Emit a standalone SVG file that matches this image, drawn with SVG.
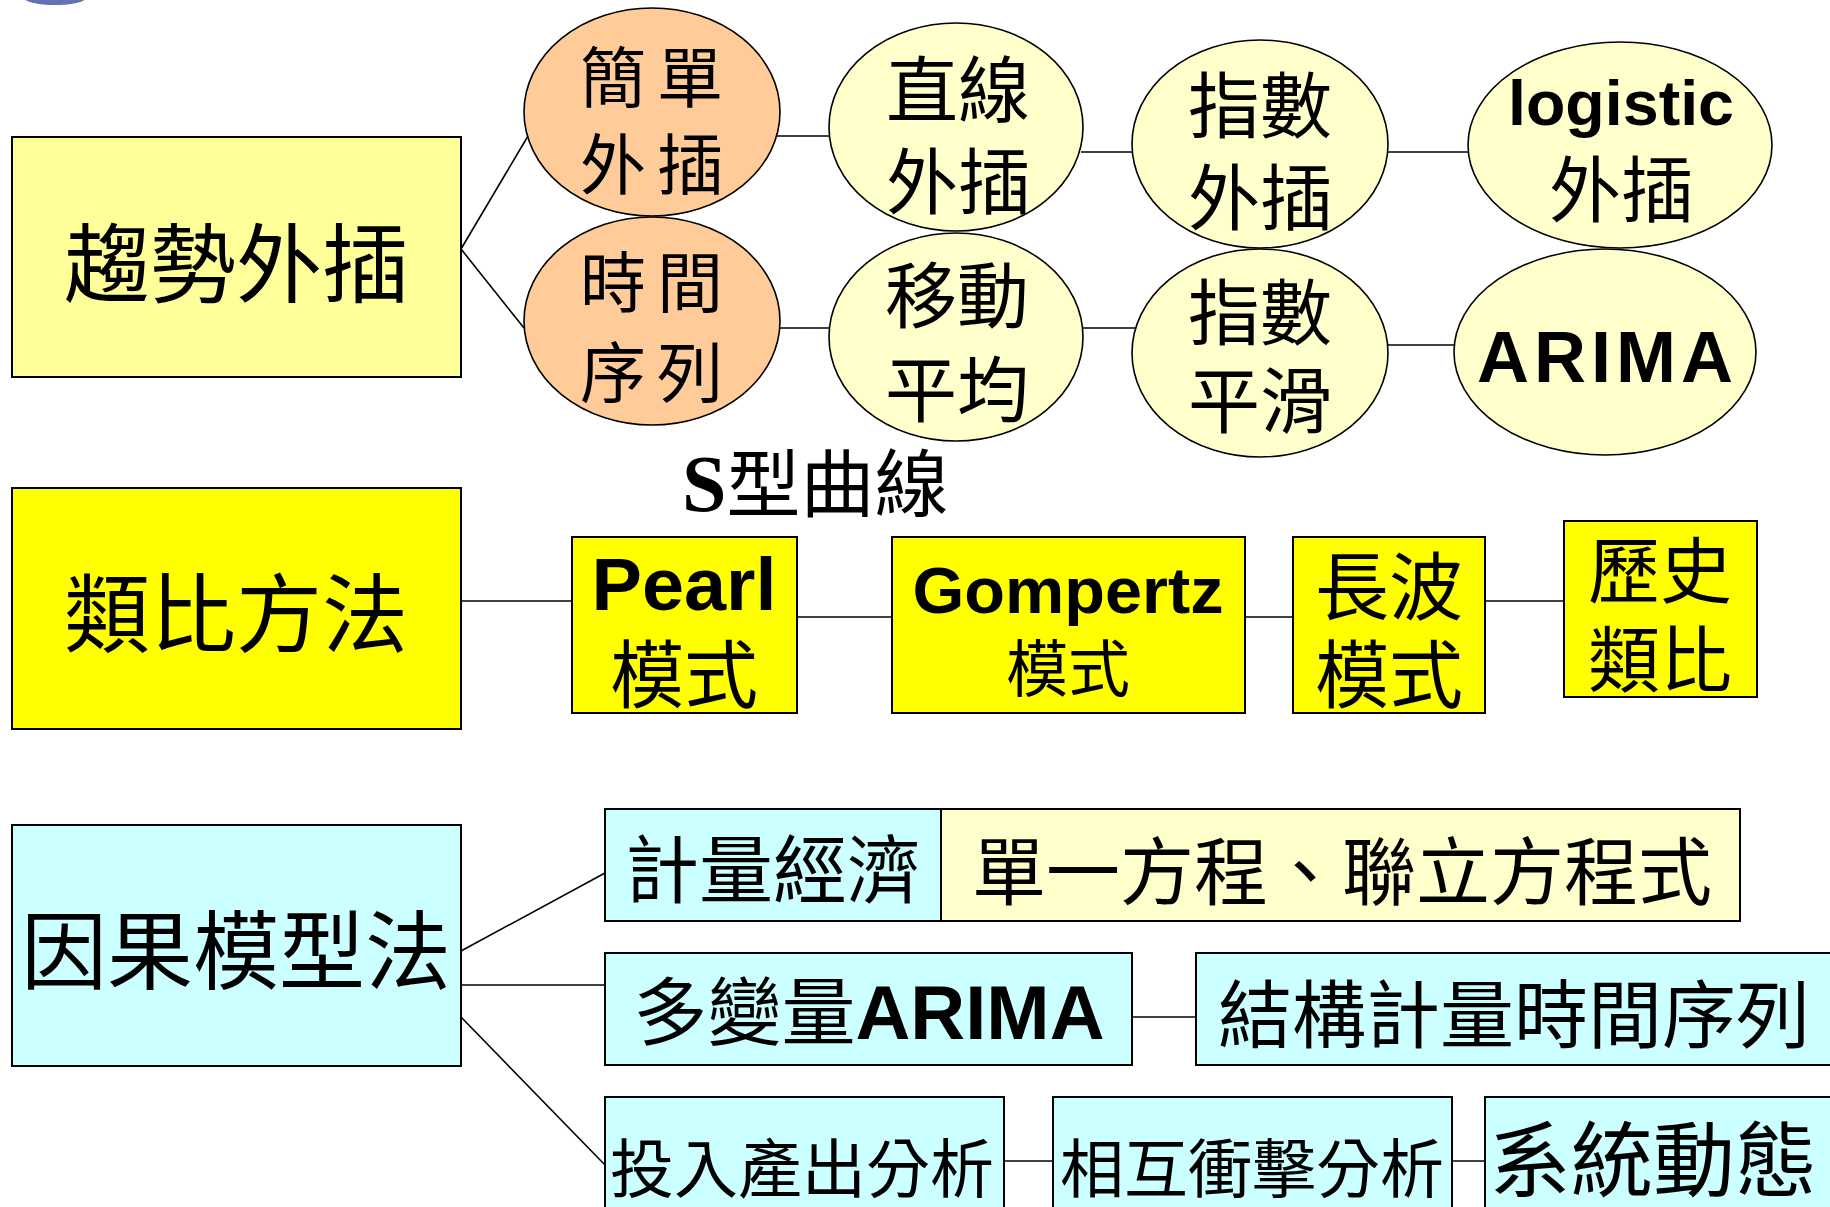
<svg xmlns="http://www.w3.org/2000/svg" width="1830" height="1207" viewBox="0 0 1830 1207">
<style>
.cjk{font-family:"Noto Sans CJK TC","Noto Sans CJK SC",sans-serif;fill:#000}
.lat{font-family:"Liberation Sans",Arial,sans-serif;font-weight:bold;fill:#000}
.ser{font-family:"Liberation Serif","Times New Roman",serif;font-weight:bold;fill:#000}
.mid{text-anchor:middle}
.box{stroke:#000;stroke-width:2}
.ell{stroke:#000;stroke-width:1.6}
.peach{fill:#FFCC99}
.cream{fill:#FFFFCC}
.pale{fill:#FFFF99}
.yel{fill:#FFFF00}
.cyan{fill:#CCFFFF}
.conn line{stroke:#000;stroke-width:1.6}
</style>
<rect width="1830" height="1207" fill="#fff"/>
<ellipse cx="55" cy="-3" rx="32" ry="8" fill="#3d4f9f" opacity="0.8"/>

<g id="connectors" class="conn">
<line x1="461" y1="249" x2="528" y2="136"/>
<line x1="461" y1="249" x2="524" y2="328"/>
<line x1="776" y1="136" x2="832" y2="136"/>
<line x1="1081" y1="152" x2="1134" y2="152"/>
<line x1="1386" y1="152" x2="1470" y2="152"/>
<line x1="778" y1="328" x2="831" y2="328"/>
<line x1="1082" y1="328" x2="1135" y2="328"/>
<line x1="1386" y1="345" x2="1455" y2="345"/>
<line x1="461" y1="601" x2="572" y2="601"/>
<line x1="797" y1="617" x2="892" y2="617"/>
<line x1="1245" y1="617" x2="1293" y2="617"/>
<line x1="1485" y1="601" x2="1564" y2="601"/>
<line x1="461" y1="951" x2="605" y2="873"/>
<line x1="461" y1="985" x2="605" y2="985"/>
<line x1="461" y1="1017" x2="605" y2="1165"/>
<line x1="1132" y1="1017" x2="1196" y2="1017"/>
<line x1="1004" y1="1161" x2="1053" y2="1161"/>
<line x1="1452" y1="1161" x2="1485" y2="1161"/>
</g>

<g id="trend">
<rect class="box pale" x="12" y="137" width="449" height="240"/>
<text class="cjk mid" x="236" y="296" font-size="86">趨勢外插</text>
</g>
<g id="simple-extrap">
<ellipse class="ell peach" cx="652" cy="112" rx="128" ry="104"/>
<text class="cjk mid" x="613 690" y="102" font-size="66">簡單</text>
<text class="cjk mid" x="613 690" y="189" font-size="66">外插</text>
</g>
<g id="time-series">
<ellipse class="ell peach" cx="652" cy="321" rx="128" ry="104"/>
<text class="cjk mid" x="613 690" y="307" font-size="66">時間</text>
<text class="cjk mid" x="613 690" y="397" font-size="66">序列</text>
</g>
<g id="linear-extrap">
<ellipse class="ell cream" cx="956" cy="127" rx="127" ry="104"/>
<text class="cjk mid" x="958" y="116" font-size="72">直線</text>
<text class="cjk mid" x="958" y="208" font-size="72">外插</text>
</g>
<g id="exp-extrap">
<ellipse class="ell cream" cx="1260" cy="144" rx="128" ry="104"/>
<text class="cjk mid" x="1260" y="132" font-size="72">指數</text>
<text class="cjk mid" x="1260" y="224" font-size="72">外插</text>
</g>
<g id="logistic-extrap">
<ellipse class="ell cream" cx="1620" cy="145" rx="152" ry="103"/>
<text class="lat mid" x="1621" y="125" font-size="63" textLength="226" lengthAdjust="spacingAndGlyphs">logistic</text>
<text class="cjk mid" x="1621" y="216" font-size="72">外插</text>
</g>
<g id="moving-avg">
<ellipse class="ell cream" cx="956" cy="337" rx="127" ry="104"/>
<text class="cjk mid" x="957" y="322" font-size="72">移動</text>
<text class="cjk mid" x="957" y="416" font-size="72">平均</text>
</g>
<g id="exp-smooth">
<ellipse class="ell cream" cx="1260" cy="353" rx="128" ry="104"/>
<text class="cjk mid" x="1260" y="339" font-size="72">指數</text>
<text class="cjk mid" x="1260" y="427" font-size="72">平滑</text>
</g>
<g id="arima">
<ellipse class="ell cream" cx="1605" cy="352" rx="151" ry="103"/>
<text class="lat mid" x="1605" y="382" font-size="72" textLength="256" lengthAdjust="spacing">ARIMA</text>
</g>

<g id="s-curve-label">
<text x="682" y="511"><tspan class="ser" font-size="80">S</tspan><tspan class="cjk" font-size="74" dy="0">型曲線</tspan></text>
</g>

<g id="analogy">
<rect class="box yel" x="12" y="488" width="449" height="241"/>
<text class="cjk mid" x="236" y="646" font-size="86">類比方法</text>
</g>
<g id="pearl">
<rect class="box yel" x="572" y="537" width="225" height="176"/>
<text class="lat mid" x="684" y="610" font-size="74" textLength="185" lengthAdjust="spacingAndGlyphs">Pearl</text>
<text class="cjk mid" x="684" y="702" font-size="74">模式</text>
</g>
<g id="gompertz">
<rect class="box yel" x="892" y="537" width="353" height="176"/>
<text class="lat mid" x="1068" y="613" font-size="64" textLength="311" lengthAdjust="spacingAndGlyphs">Gompertz</text>
<text class="cjk mid" x="1068" y="692" font-size="62">模式</text>
</g>
<g id="long-wave">
<rect class="box yel" x="1293" y="537" width="192" height="176"/>
<text class="cjk mid" x="1389" y="614" font-size="74">長波</text>
<text class="cjk mid" x="1389" y="702" font-size="74">模式</text>
</g>
<g id="historical">
<rect class="box yel" x="1564" y="521" width="193" height="176"/>
<text class="cjk mid" x="1660" y="597" font-size="72">歷史</text>
<text class="cjk mid" x="1660" y="686" font-size="72">類比</text>
</g>

<g id="causal">
<rect class="box cyan" x="12" y="825" width="449" height="241"/>
<text class="cjk mid" x="236" y="983" font-size="86">因果模型法</text>
</g>
<g id="econometrics">
<rect class="box cyan" x="605" y="809" width="336" height="112"/>
<text class="cjk mid" x="773" y="897" font-size="74">計量經濟</text>
</g>
<g id="equations">
<rect class="box cream" x="941" y="809" width="799" height="112"/>
<text class="cjk mid" x="1342" y="899" font-size="74">單一方程、聯立方程式</text>
</g>
<g id="multi-arima">
<rect class="box cyan" x="605" y="953" width="527" height="112"/>
<text class="mid" x="869" y="1039"><tspan class="cjk" font-size="74">多變量</tspan><tspan class="lat" font-size="76">ARIMA</tspan></text>
</g>
<g id="structural">
<rect class="box cyan" x="1196" y="953" width="650" height="112"/>
<text class="cjk" x="1218" y="1042" font-size="74">結構計量時間序列</text>
</g>
<g id="input-output">
<rect class="box cyan" x="605" y="1097" width="399" height="130"/>
<text class="cjk mid" x="802" y="1192" font-size="64">投入產出分析</text>
</g>
<g id="cross-impact">
<rect class="box cyan" x="1053" y="1097" width="399" height="130"/>
<text class="cjk mid" x="1252" y="1192" font-size="64">相互衝擊分析</text>
</g>
<g id="system-dynamics">
<rect class="box cyan" x="1485" y="1097" width="360" height="130"/>
<text class="cjk" x="1489" y="1190" font-size="82">系統動態</text>
</g>
</svg>
